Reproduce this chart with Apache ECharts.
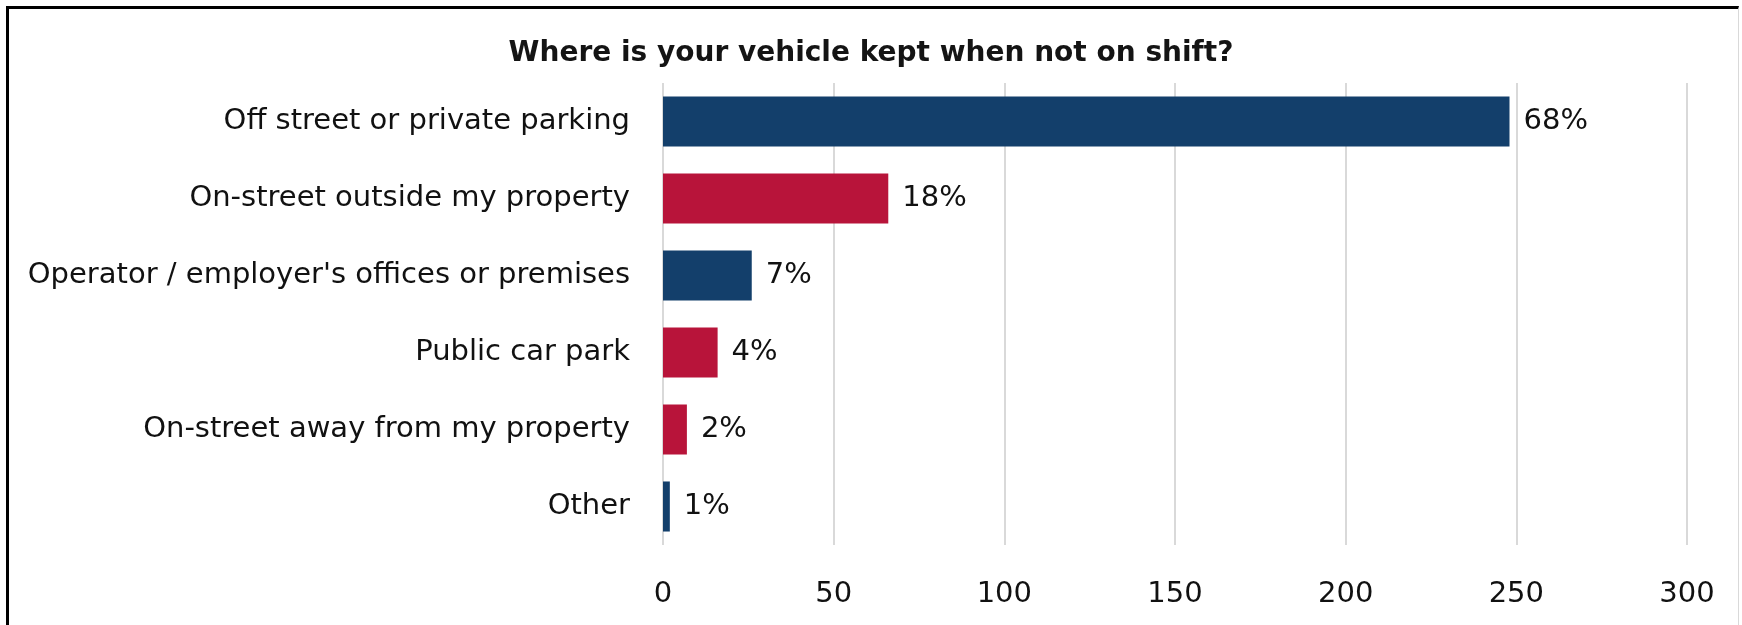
<!DOCTYPE html>
<html>
<head>
<meta charset="utf-8">
<title>Where is your vehicle kept when not on shift?</title>
<script src="https://cdn.jsdelivr.net/npm/echarts@6/dist/echarts.min.js"></script>
<style>
  html, body { margin: 0; padding: 0; background: #fff; }
  #frame {
    position: absolute; left: 6px; top: 6px; width: 1733px; height: 640px;
    border-left: 3px solid #000; border-top: 3px solid #000; border-right: 1px solid #d9d9d9;
    box-sizing: border-box;
  }
  #chart { position: absolute; left: 0; top: 0; width: 1742px; height: 625px; }
</style>
</head>
<body>
<div id="frame"></div>
<div id="chart"></div>
<script>
// Survey responses: where drivers keep their vehicle off shift
const titleText = 'Where is your vehicle kept when not on shift?';
const categories = [
  'Off street or private parking',
  'On-street outside my property',
  "Operator / employer's offices or premises",
  'Public car park',
  'On-street away from my property',
  'Other'
];
const counts = [248, 66, 26, 16, 7, 2];
const tickValues = [0, 50, 100, 150, 200, 250, 300];

const NAVY = '#133f6b';
const RED = '#b8143a';
const barColors = [NAVY, RED, NAVY, RED, RED, NAVY];

const total = counts.reduce((a, b) => a + b, 0);
const FONT = '"DejaVu Sans", "Noto Sans", sans-serif';

const chart = echarts.init(document.getElementById('chart'), null, { renderer: 'canvas' });
chart.setOption({
  backgroundColor: 'transparent',
  animation: false,
  textStyle: { fontFamily: FONT },
  title: {
    text: titleText,
    left: 'center',
    top: 35,
    textStyle: { fontFamily: FONT, fontSize: 28, fontWeight: 'bold', color: '#141414' }
  },
  grid: { left: 663, right: 55, top: 83, bottom: 80, containLabel: false },
  xAxis: {
    type: 'value',
    min: tickValues[0],
    max: tickValues[tickValues.length - 1],
    interval: tickValues[1] - tickValues[0],
    axisLine: { show: false },
    axisTick: { show: false },
    splitLine: { show: true, lineStyle: { color: '#d9d9d9', width: 2 } },
    axisLabel: { margin: 35, fontSize: 29, color: '#111', fontFamily: FONT }
  },
  yAxis: {
    type: 'category',
    inverse: true,
    data: categories,
    axisLine: { show: false },
    axisTick: { show: false },
    axisLabel: { margin: 33, fontSize: 29, color: '#111', fontFamily: FONT }
  },
  series: [{
    type: 'bar',
    barWidth: '65%',
    data: counts.map((v, i) => ({ value: v, itemStyle: { color: barColors[i] } })),
    label: {
      show: true,
      position: 'right',
      distance: 14,
      fontSize: 29,
      color: '#111',
      fontFamily: FONT,
      formatter: p => Math.round(p.value / total * 100) + '%'
    }
  }]
});
</script>
</body>
</html>
